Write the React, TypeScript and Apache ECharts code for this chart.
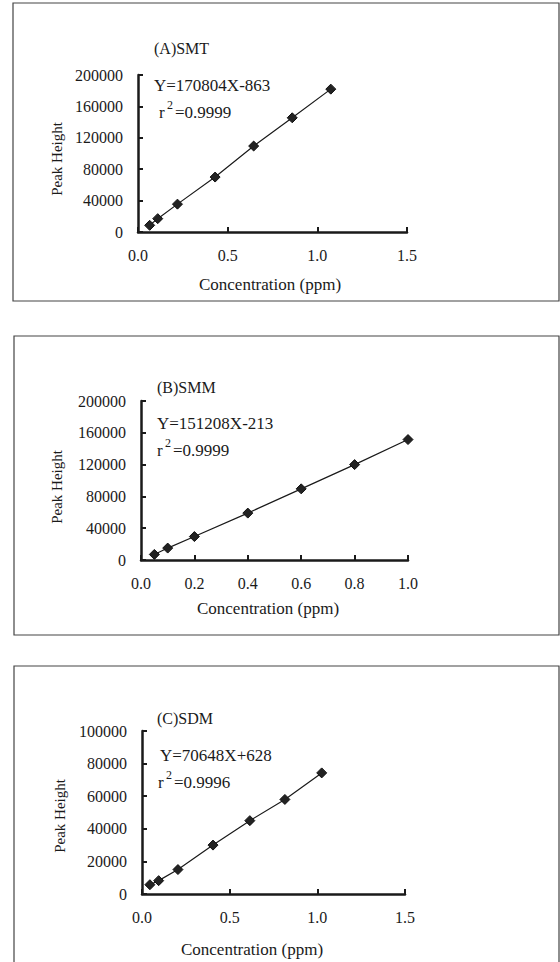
import React, { useEffect, useRef } from "react";
import * as echarts from "echarts";

// Panel A: SMT
const xA = [0.065, 0.11, 0.22, 0.43, 0.645, 0.86, 1.075];
const yA = [8500, 17000, 35500, 70000, 109500, 145500, 182000];
// Panel B: SMM
const xB = [0.05, 0.1, 0.2, 0.4, 0.6, 0.8, 1.0];
const yB = [7000, 15000, 29500, 59000, 89500, 120000, 151500];
// Panel C: SDM
const xC = [0.045, 0.095, 0.205, 0.405, 0.615, 0.815, 1.025];
const yC = [5700, 8200, 15000, 30000, 45000, 58000, 74300];

const titles = ["(A)SMT", "(B)SMM", "(C)SDM"];
const equations = ["Y=170804X-863", "Y=151208X-213", "Y=70648X+628"];
const r2Values = ["=0.9999", "=0.9999", "=0.9996"];
const xRanges = [
  { min: 0, max: 1.5, interval: 0.5 },
  { min: 0, max: 1.0, interval: 0.2 },
  { min: 0, max: 1.5, interval: 0.5 },
];
const yRanges = [
  { min: 0, max: 200000, interval: 40000 },
  { min: 0, max: 200000, interval: 40000 },
  { min: 0, max: 100000, interval: 20000 },
];
const xTitle = "Concentration (ppm)";
const yTitle = "Peak Height";

const FONT = "Liberation Serif";
const INK = "#1a1a1a";

const grids = [
  { left: 138, top: 75, width: 269, height: 157 },
  { left: 141, top: 401, width: 267, height: 159 },
  { left: 142, top: 731, width: 263, height: 163 },
];

const frames = [
  { x: 13, y: 3, w: 546, h: 298 },
  { x: 14, y: 336, w: 545, h: 299 },
  { x: 14, y: 666, w: 545, h: 320 },
];

const textPos = [
  { tx: 154, ty: 48, ex: 154, ey: 85, rx: 159, ry: 112, xtx: 270, xty: 284, ytx: 57, yty: 159 },
  { tx: 157, ty: 387, ex: 157, ey: 423, rx: 157, ry: 450, xtx: 268, xty: 608, ytx: 57, yty: 487 },
  { tx: 157, ty: 718, ex: 160, ey: 755, rx: 158, ry: 782, xtx: 252, xty: 949, ytx: 60, yty: 816 },
];

function txt(text: string, x: number, y: number, size: number, align = "left", rotation = 0) {
  return {
    type: "text",
    x,
    y,
    rotation,
    silent: true,
    style: {
      text,
      x: 0,
      y: 0,
      fontSize: size,
      fontFamily: FONT,
      fill: INK,
      align,
      verticalAlign: "middle",
    },
  };
}

export default function App() {
  const ref = useRef<HTMLDivElement>(null);
  useEffect(() => {
    if (!ref.current) return;
    const chart = echarts.init(ref.current, null, { renderer: "svg" });
    const datasets = [
      xA.map((x, i) => [x, yA[i]]),
      xB.map((x, i) => [x, yB[i]]),
      xC.map((x, i) => [x, yC[i]]),
    ];
    const graphics: any[] = [];
    frames.forEach((f) => {
      graphics.push({
        type: "rect",
        silent: true,
        shape: { x: f.x, y: f.y, width: f.w, height: f.h },
        style: { fill: "none", stroke: "#444", lineWidth: 1.2 },
      });
    });
    textPos.forEach((p, i) => {
      graphics.push(txt(titles[i], p.tx, p.ty, 16));
      graphics.push(txt(equations[i], p.ex, p.ey, 17));
      graphics.push(txt("r", p.rx, p.ry, 17));
      graphics.push(txt("2", p.rx + 8, p.ry - 7, 12));
      graphics.push(txt(r2Values[i], p.rx + 16, p.ry, 17));
      graphics.push(txt(xTitle, p.xtx, p.xty, 17, "center"));
      graphics.push(txt(yTitle, p.ytx, p.yty, 15, "center", Math.PI / 2));
    });

    const axisCommon = {
      axisLine: { show: true, onZero: false, lineStyle: { color: INK, width: 2.5 } },
      axisTick: { show: true, inside: true, length: 5, lineStyle: { color: INK, width: 2 } },
      splitLine: { show: false },
      axisLabel: { color: INK, fontFamily: FONT, fontSize: 16 },
    };

    chart.setOption({
      animation: false,
      backgroundColor: "#ffffff",
      grid: grids.map((g) => ({ ...g, containLabel: false })),
      xAxis: grids.map((_, i) => ({
        type: "value",
        gridIndex: i,
        ...xRanges[i],
        ...axisCommon,
        axisLabel: {
          ...axisCommon.axisLabel,
          margin: 15,
          formatter: (v: number) => v.toFixed(1),
        },
      })),
      yAxis: grids.map((_, i) => ({
        type: "value",
        gridIndex: i,
        ...yRanges[i],
        ...axisCommon,
        axisLabel: {
          ...axisCommon.axisLabel,
          margin: 15,
          formatter: (v: number) => String(v),
        },
      })),
      series: datasets.map((d, i) => ({
        type: "line",
        xAxisIndex: i,
        yAxisIndex: i,
        data: d,
        symbol: "diamond",
        symbolSize: [10, 10],
        showSymbol: true,
        itemStyle: { color: "#222", borderColor: "#111", borderWidth: 1 },
        lineStyle: { color: INK, width: 1.2 },
        silent: true,
      })),
      graphic: graphics,
    });
    return () => chart.dispose();
  }, []);
  return (
    <div
      ref={ref}
      style={{ position: "absolute", left: 0, top: 0, width: 560, height: 962, background: "#fff" }}
    />
  );
}
